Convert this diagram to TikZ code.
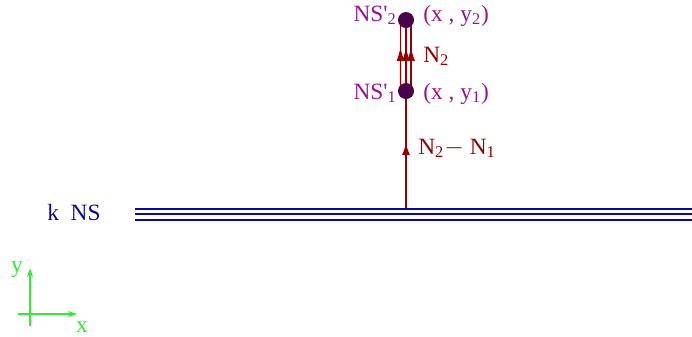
\documentclass[tikz,border=0pt]{standalone}
\usepackage{fontspec}
\setmainfont{Liberation Serif}
\usetikzlibrary{arrows.meta, calc, backgrounds}
\definecolor{DeepNavy}{RGB}{10, 10, 150}
\definecolor{DarkRed}{RGB}{150, 0, 0}
\definecolor{Plum}{RGB}{150, 20, 150}
\definecolor{DotPurple}{RGB}{75, 0, 75}
\definecolor{AxisGreen}{RGB}{50, 235, 50}

\begin{document}
\begin{tikzpicture}[x=0.02cm, y=-0.02cm,
    nsdot/.style={circle, fill=DotPurple, inner sep=0pt, minimum size=0.32cm},
    tagtext/.style={font=\fontsize{13.3}{15}\selectfont, inner sep=0pt},
    plane/.style={draw=DeepNavy, line width=1.5pt},
    flux/.style={draw=DarkRed, line width=0.8pt},
    fluxtip/.style={flux, -{Latex[length=#1, width=1.6mm]}},
    axis/.style={draw=AxisGreen, line width=0.7pt, -{Stealth[length=1.8mm, width=1.2mm, inset=0.6mm]}}
]
    \useasboundingbox (0,0) rectangle (692,336);

    % stacked layers
    \foreach \yy in {209,214,220}
        \draw [plane] (135,\yy) -- (692,\yy);
    \node [tagtext, text=DeepNavy, anchor=base west] (layer) at (47,220) {k~~NS};

    % ns dots
    \coordinate (base) at (406,209);
    \node [nsdot] (ns1) at (406,91) {};
    \node [nsdot] (ns2) at (406,20) {};

    \begin{pgfonlayer}{background}
        \draw [flux] (base) -- (ns1.center);
        \draw [fluxtip=2.4mm] (base) -- ($(base)!0.56!(ns1.center)$);
        \foreach \dx in {-0.11cm, 0cm, 0.1cm} {
            \draw [flux] ([xshift=\dx]ns1.center) -- ([xshift=\dx]ns2.center);
            \draw [fluxtip=2.8mm] ([xshift=\dx]ns1.center) -- ($([xshift=\dx]ns1.center)!0.62!([xshift=\dx]ns2.center)$);
        }
    \end{pgfonlayer}

    \node [tagtext, text=Plum, anchor=base east] (ns2name) at (397,21) {NS\textquotesingle\textsubscript{2}};
    \node [tagtext, text=Plum, anchor=base west] (ns2pos) at (423,21) {(x , y\textsubscript{2})};
    \node [tagtext, text=Plum, anchor=base east] (ns1name) at (397,99) {NS\textquotesingle\textsubscript{1}};
    \node [tagtext, text=Plum, anchor=base west] (ns1pos) at (423,99) {(x , y\textsubscript{1})};
    \node [tagtext, text=DarkRed, anchor=base west] (nflux) at (423,62) {N\textsubscript{2}};
    \node [tagtext, text=DarkRed, anchor=base west] (dflux) at (418,154) {N\textsubscript{2}$-$ N\textsubscript{1}};

    % axes
    \coordinate (xend) at (77,314);
    \coordinate (yend) at (30,268);
    \draw [axis] (18,314) -- (xend);
    \draw [axis] (30,326) -- (yend);
    \node [tagtext, text=AxisGreen, anchor=base] (xlab) at (82,332) {x};
    \node [tagtext, text=AxisGreen, anchor=base] (ylab) at (17,272) {y};
\end{tikzpicture}
\end{document}
